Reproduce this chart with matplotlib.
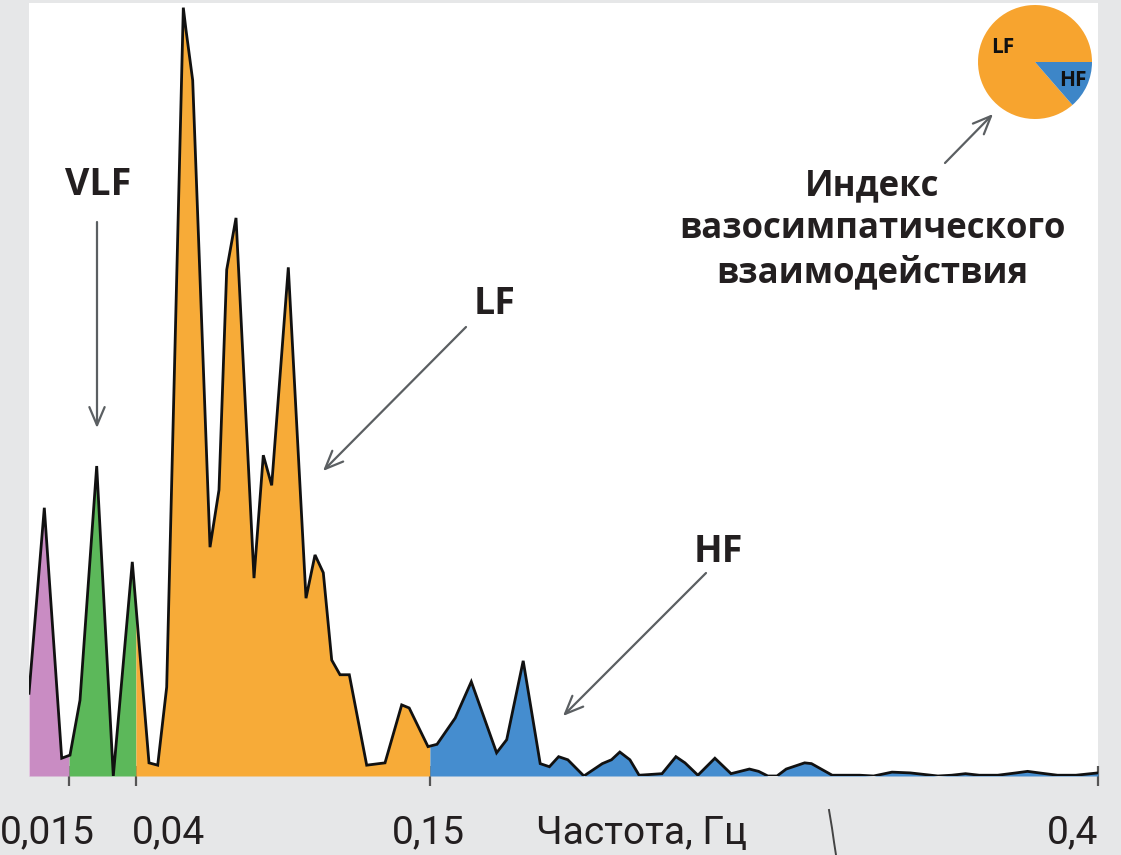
import numpy as np
import matplotlib
matplotlib.use("Agg")
import matplotlib.pyplot as plt
from matplotlib.lines import Line2D
from matplotlib.transforms import ScaledTranslation

# ---------------- data ----------------
freq = [0.0000, 0.00573, 0.01224, 0.01534, 0.01908, 0.02533, 0.03154, 0.03865,
        0.04490, 0.04816, 0.05152, 0.05774, 0.05875, 0.06125, 0.06773, 0.07109,
        0.07398, 0.07746, 0.08419, 0.08767, 0.09081, 0.09703, 0.10365, 0.10702,
        0.11012, 0.11327, 0.11637, 0.11985, 0.12636, 0.13321, 0.13946, 0.14226,
        0.14930, 0.15267, 0.15948, 0.16550, 0.17497, 0.17875, 0.18492, 0.19128,
        0.19473, 0.19817, 0.20161, 0.20763, 0.21452, 0.21796, 0.22107, 0.22485,
        0.22829, 0.23686, 0.24206, 0.24546, 0.25029, 0.25665, 0.26268, 0.26956,
        0.27300, 0.27645, 0.27989, 0.28333, 0.29022, 0.29280, 0.30054, 0.31087,
        0.31604, 0.32292, 0.32977, 0.34009, 0.34526, 0.35042, 0.35558, 0.36247,
        0.36935, 0.37366, 0.37796, 0.38485, 0.39173, 0.40000]
power = [10.7, 34.7, 2.3, 2.7, 9.8, 40.1, 0.0, 27.7,
         1.7, 1.4, 11.5, 99.4, 96.5, 90.0, 29.6, 37.0,
         65.5, 72.2, 25.6, 41.5, 37.6, 65.8, 23.0, 28.6,
         26.3, 15.0, 13.1, 13.1, 1.4, 1.7, 9.2, 8.8,
         3.8, 4.1, 7.5, 12.2, 3.0, 4.7, 14.9, 1.6,
         1.2, 2.5, 2.1, 0.0, 1.6, 2.1, 3.1, 2.1,
         0.1, 0.3, 2.5, 1.7, 0.1, 2.3, 0.3, 0.9,
         0.6, 0.0, 0.0, 0.9, 1.7, 1.6, 0.1, 0.1,
         0.0, 0.5, 0.4, 0.0, 0.1, 0.3, 0.1, 0.1,
         0.4, 0.6, 0.4, 0.1, 0.1, 0.4]

band_edges = [0.0, 0.015, 0.04, 0.15, 0.40]
band_colors = ["#c98cc3", "#5cb85a", "#f7ab38", "#458dcf"]
tick_values = [0.015, 0.04, 0.15, 0.4]
tick_labels = ["0,015", "0,04", "0,15", "0,4"]

pie_labels = ["LF", "HF"]
pie_values = [86.4, 13.6]
pie_colors = ["#f7a42f", "#3d86c8"]

# ---------------- figure ----------------
W, H = 1121, 855
BG = "#e6e7e8"
TXT = "#231f20"
ARROW = "#5b5f62"

fig = plt.figure(figsize=(W / 100, H / 100), dpi=100, facecolor=BG)


def fx(px):
    return px / W


def fy(py):
    return 1 - py / H


ax = fig.add_axes([fx(29), fy(776), fx(1098) - fx(29), fy(3) - fy(776)])
ax.set_facecolor("white")
ax.set_xlim(0, 0.4)
ax.set_ylim(0, 100)
for s in ax.spines.values():
    s.set_visible(False)
ax.set_yticks([])

# insert band edges into the curve so the fills meet exactly
f = np.array(freq)
p = np.array(power)
extra = [e for e in band_edges[1:-1] if e not in f]
fa = np.sort(np.concatenate([f, extra]))
pa = np.interp(fa, f, p)

for i, col in enumerate(band_colors):
    lo, hi = band_edges[i], band_edges[i + 1]
    m = (fa >= lo) & (fa <= hi)
    ax.fill_between(fa[m], 0, pa[m], color=col, lw=0, zorder=2)

ax.plot(f, p, color="#111111", lw=2.0, zorder=3, solid_joinstyle="miter")

# ticks
ax.set_xticks(tick_values)
ax.set_xticklabels(tick_labels)
ax.tick_params(axis="x", direction="inout", length=15, width=1.6,
               color="#555555", pad=20, labelsize=28, labelcolor=TXT)
labs = ax.get_xticklabels()
offsets = [(-22, "center"), (-4, "left"), (-2, "center"), (0, "right")]
for lab, (dx, ha) in zip(labs, offsets):
    lab.set_fontfamily("Roboto")
    lab.set_ha(ha)
    lab.set_transform(lab.get_transform() + ScaledTranslation(dx / 100, 0, fig.dpi_scale_trans))

fig.text(fx(642), fy(844), "Частота, Гц", family="Roboto", fontsize=28,
         color=TXT, ha="center", va="baseline")

# band labels
bold = dict(family="Open Sans", fontweight="bold", color=TXT)
fig.text(fx(98), fy(195), "VLF", fontsize=27, ha="center", va="baseline", **bold)
fig.text(fx(495), fy(314), "LF", fontsize=27, ha="center", va="baseline", **bold)
fig.text(fx(718), fy(562), "HF", fontsize=27, ha="center", va="baseline", **bold)
for txt, yb in [("Индекс", 195), ("вазосимпатического", 238), ("взаимодействия", 282)]:
    fig.text(fx(872), fy(yb), txt, fontsize=25, ha="center", va="baseline", **bold)

# arrows (figure pixel coordinates)
arrow_style = dict(arrowstyle="->,head_length=1.3,head_width=0.55",
                   color=ARROW, lw=1.6, shrinkA=0, shrinkB=0)
arrows = [((97, 222), (97, 428)),
          ((466, 327), (323, 471)),
          ((706, 573), (563, 716)),
          ((945, 163), (993, 114))]
for (x0, y0), (x1, y1) in arrows:
    ax.annotate("", xy=(x1, H - y1), xytext=(x0, H - y0),
                xycoords="figure pixels", textcoords="figure pixels",
                arrowprops=arrow_style, annotation_clip=False)

# pie inset
pax = fig.add_axes([fx(978), fy(119), fx(1092) - fx(978), fy(5) - fy(119)])
pax.pie(pie_values, colors=pie_colors, startangle=0, counterclock=True,
        wedgeprops=dict(linewidth=0))
pax.set_xlim(-1, 1)
pax.set_ylim(-1, 1)
pax.set_aspect("equal")
pax.axis("off")
pax.text(-0.56, 0.26, pie_labels[0], fontsize=15, ha="center", va="center",
         family="Open Sans", fontweight="bold", color="#111111")
pax.text(0.66, -0.32, pie_labels[1], fontsize=15, ha="center", va="center",
         family="Open Sans", fontweight="bold", color="#111111")

# small curved stroke at the bottom (present in the reference)
fig.add_artist(Line2D([fx(829), fx(832), fx(834), fx(836)],
                      [fy(810), fy(828), fy(842), fy(855)],
                      color="#444444", lw=1.4))

fig.savefig("out.png", dpi=100, facecolor=BG)
